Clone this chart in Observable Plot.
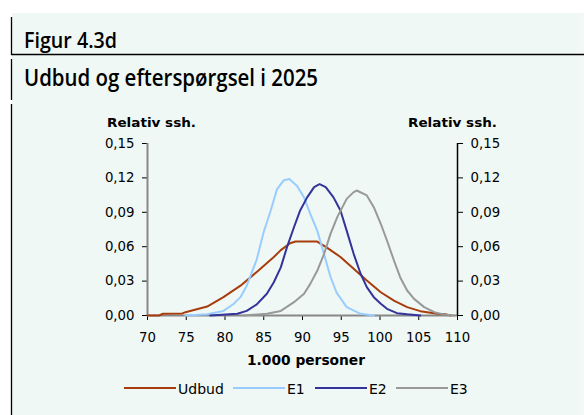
<!DOCTYPE html>
<html><head><meta charset="utf-8">
<script src="https://cdn.jsdelivr.net/npm/d3@7"></script>
<script src="https://cdn.jsdelivr.net/npm/@observablehq/plot@0.6"></script>
<style>
html,body{margin:0;padding:0;background:#fff;}
#wrap{position:relative;width:584px;height:415px;overflow:hidden;}
#panel{position:absolute;left:12px;top:13px;width:566px;height:402px;background:#eff8f5;}
#edge{position:absolute;left:578px;top:13px;width:6px;height:402px;background:#f3f7f6;}
#chart{position:absolute;left:0;top:0;}
#overlay{position:absolute;left:0;top:0;pointer-events:none;}
</style></head><body>
<div id="wrap">
  <div id="panel"></div><div id="edge"></div>
  <div id="chart"></div>
  <svg id="overlay" width="584" height="415"></svg>
</div>
<script>
// ---- data ----
const seriesNames = ["Udbud", "E1", "E2", "E3"];
const seriesColors = ["#a83c0c", "#99ccff", "#333399", "#999999"];

const udbudX = [70, 71.5, 72, 74.5, 74.9, 77.7, 79.8, 82, 84.1, 86.3, 87.2, 88.4, 89.1, 91.9, 93.2, 94.9, 96.6, 98.3, 100.1, 101.8, 103.5, 105.2, 107.4, 108.5, 109.1];
const udbudY = [0, 0, 0.0015, 0.0018, 0.0029, 0.0078, 0.016, 0.026, 0.038, 0.051, 0.057, 0.063, 0.0645, 0.0645, 0.059, 0.051, 0.0407, 0.0305, 0.0203, 0.013, 0.0073, 0.0038, 0.0015, 0.001, 0];

const e1X = [74.9, 77.7, 79.8, 81.1, 82, 82.8, 84.1, 85, 85.9, 86.7, 87.6, 88.3, 89.3, 90.2, 91, 91.9, 92.8, 93.6, 94.4, 95.7, 97.5, 99.2];
const e1Y = [0, 0.001, 0.004, 0.010, 0.016, 0.026, 0.049, 0.073, 0.0916, 0.11, 0.118, 0.119, 0.113, 0.103, 0.0887, 0.074, 0.053, 0.034, 0.020, 0.0073, 0.0015, 0];

const e2X = [78.1, 81.6, 82.8, 84.1, 85.4, 86.3, 87.2, 88, 88.9, 89.7, 90.6, 91.5, 92.2, 93, 94, 94.9, 95.7, 96.6, 97.5, 98.3, 99.2, 100.1, 100.9, 102.2, 103.5, 105.2];
const e2Y = [0, 0.0015, 0.004, 0.0097, 0.019, 0.029, 0.042, 0.0596, 0.077, 0.0916, 0.103, 0.112, 0.1145, 0.112, 0.103, 0.0916, 0.074, 0.0538, 0.0364, 0.0247, 0.016, 0.0102, 0.0058, 0.002, 0.001, 0];

const e3X = [82.4, 85.4, 87.2, 88.9, 90.2, 91, 91.9, 92.8, 93.6, 94.5, 95.7, 96.6, 97, 98.3, 99.2, 100.1, 100.9, 101.8, 102.6, 103.5, 104.4, 105.7, 107, 108.2, 109.5];
const e3Y = [0, 0.0015, 0.004, 0.0116, 0.019, 0.0276, 0.039, 0.054, 0.071, 0.086, 0.1017, 0.1076, 0.109, 0.1047, 0.0945, 0.08, 0.0654, 0.048, 0.0334, 0.0218, 0.0145, 0.0073, 0.0029, 0.001, 0];

const xTicks = [70, 75, 80, 85, 90, 95, 100, 105, 110];
const yTicks = [0, 0.03, 0.06, 0.09, 0.12, 0.15];

const figLabel = "Figur 4.3d";
const titleText = "Udbud og efterspørgsel i 2025";
const yTitle = "Relativ ssh.";
const xTitle = "1.000 personer";

// ---- build table ----
const seriesXY = [[udbudX, udbudY], [e1X, e1Y], [e2X, e2Y], [e3X, e3Y]];
const rows = [];
seriesXY.forEach(([xs, ys], i) => xs.forEach((x, j) => rows.push({series: seriesNames[i], x, y: ys[j]})));

const fmt = d => d.toFixed(2).replace(".", ",");

const chart = Plot.plot({
  width: 584,
  height: 375,
  marginTop: 143,
  marginBottom: 60,
  marginLeft: 147,
  marginRight: 127,
  style: {background: "transparent", fontFamily: "DejaVu Sans, Verdana, sans-serif", fontSize: "13.3px", color: "#000", overflow: "visible"},
  x: {domain: [70, 110], ticks: xTicks, tickSize: 5, tickPadding: 12, tickFormat: d => String(d), label: null},
  y: {domain: [0, 0.15], ticks: yTicks, tickSize: 5, tickPadding: 8, tickFormat: fmt, label: null, axis: "both"},
  color: {domain: seriesNames, range: seriesColors},
  marks: [
    Plot.ruleY([0], {stroke: "#888", strokeWidth: 2}),
    Plot.ruleX([70], {stroke: "#888", strokeWidth: 2}),
    Plot.ruleX([110], {stroke: "#000", strokeWidth: 1.5}),
    Plot.line(rows, {x: "x", y: "y", z: "series", stroke: "series", strokeWidth: 2, curve: "linear"})
  ]
});
document.getElementById("chart").appendChild(chart);

// ---- overlay texts, frame and legend ----
const svg = d3.select("#overlay");
const hf = "'Open Sans', 'Noto Sans', sans-serif";
const vf = "'DejaVu Sans', Verdana, sans-serif";
// frame lines
svg.append("line").attr("x1", 11).attr("x2", 584).attr("y1", 54.5).attr("y2", 54.5).attr("stroke", "#000").attr("stroke-width", 1.5);
svg.append("line").attr("x1", 11.5).attr("x2", 11.5).attr("y1", 17).attr("y2", 55).attr("stroke", "#000").attr("stroke-width", 1.3);
svg.append("line").attr("x1", 11.5).attr("x2", 11.5).attr("y1", 59).attr("y2", 100).attr("stroke", "#000").attr("stroke-width", 1.3);
svg.append("line").attr("x1", 11.5).attr("x2", 11.5).attr("y1", 104).attr("y2", 415).attr("stroke", "#000").attr("stroke-width", 1.3);

svg.append("text").text(figLabel).attr("x", 24).attr("y", 48).attr("font-family", hf).attr("font-weight", 600)
  .attr("font-size", 21).attr("textLength", 93).attr("lengthAdjust", "spacingAndGlyphs");
svg.append("text").text(titleText).attr("x", 24).attr("y", 86).attr("font-family", hf).attr("font-weight", 600)
  .attr("font-size", 24).attr("textLength", 294).attr("lengthAdjust", "spacingAndGlyphs");

svg.append("text").text(yTitle).attr("x", 107).attr("y", 127).attr("font-family", vf).attr("font-weight", 700)
  .attr("font-size", 12.5).attr("textLength", 89).attr("lengthAdjust", "spacingAndGlyphs");
svg.append("text").text(yTitle).attr("x", 408).attr("y", 127).attr("font-family", vf).attr("font-weight", 700)
  .attr("font-size", 12.5).attr("textLength", 89).attr("lengthAdjust", "spacingAndGlyphs");
svg.append("text").text(xTitle).attr("x", 247).attr("y", 365).attr("font-family", vf).attr("font-weight", 700)
  .attr("font-size", 14).attr("textLength", 118).attr("lengthAdjust", "spacingAndGlyphs");

const legendX = [124, 233, 315, 396];
seriesNames.forEach((name, i) => {
  const x0 = legendX[i];
  svg.append("line").attr("x1", x0).attr("x2", x0 + 52).attr("y1", 388).attr("y2", 388)
    .attr("stroke", seriesColors[i]).attr("stroke-width", 2);
  svg.append("text").text(name).attr("x", x0 + 54).attr("y", 393.5).attr("font-family", vf).attr("font-size", 14);
});
</script>
</body></html>
